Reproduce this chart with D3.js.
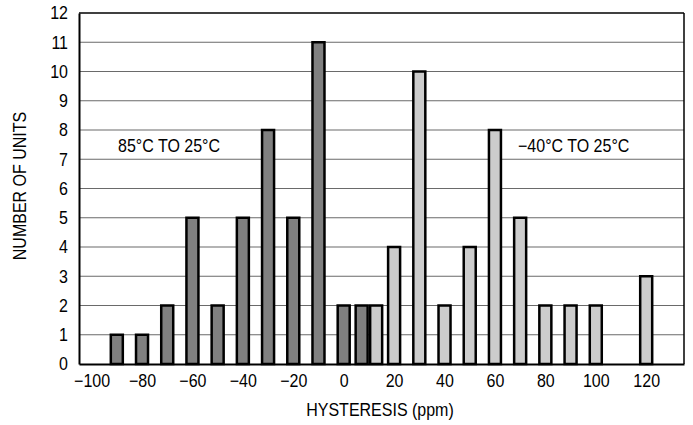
<!DOCTYPE html>
<html>
<head>
<meta charset="utf-8">
<script src="https://cdn.jsdelivr.net/npm/d3@7"></script>
<style>
  html, body { margin: 0; padding: 0; background: #fff; }
  text { font-family: "Liberation Sans", Arial, Helvetica, sans-serif; fill: #000; }
</style>
</head>
<body>
<svg id="chart" width="693" height="425"></svg>
<script>
// ---- data ----
const hotBins   = [-90, -80, -70, -60, -50, -40, -30, -20, -10, 0, 10];
const hotCounts = [  1,   1,   2,   5,   2,   5,   8,   5,  11, 2,  2];
const coldBins   = [10, 20, 30, 40, 50, 60, 70, 80, 90, 100, 120];
const coldCounts = [ 2,  4, 10,  2,  4,  8,  5,  2,  2,   2,   3];
const xTicks = [-100, -80, -60, -40, -20, 0, 20, 40, 60, 80, 100, 120];
const yTicks = [0, 1, 2, 3, 4, 5, 6, 7, 8, 9, 10, 11, 12];
const hotLabel = "85°C TO 25°C";
const coldLabel = "\u221240°C TO 25°C";
const xTitle = "HYSTERESIS (ppm)";
const yTitle = "NUMBER OF UNITS";

// ---- layout ----
const FS = 18, SX = 0.89; // condensed look
const svg = d3.select("#chart");
const L = 79, R = 684, T = 13, B = 364;
const x = d3.scaleLinear().domain([-105, 135]).range([L, R]);
const y = d3.scaleLinear().domain([0, 12]).range([B, T]);
const barW = 12;

// gridlines
svg.append("g").selectAll("line").data(yTicks.filter(d => d > 0 && d < 12)).join("line")
  .attr("x1", L).attr("x2", R)
  .attr("y1", d => y(d)).attr("y2", d => y(d))
  .attr("stroke", "#6a6a6a").attr("stroke-width", 1.2);

// frame top/right
svg.append("line").attr("x1", L).attr("x2", R).attr("y1", y(12)).attr("y2", y(12))
  .attr("stroke", "#000").attr("stroke-width", 1.3);
svg.append("line").attr("x1", R).attr("x2", R).attr("y1", T).attr("y2", B)
  .attr("stroke", "#000").attr("stroke-width", 1.5);

// bars — overlapping bin (10) drawn side by side
function offset(bin, series) {
  const shared = hotBins.includes(bin) && coldBins.includes(bin);
  if (!shared) return 0;
  return series === "hot" ? -(barW + 2.5) / 2 : (barW + 2.5) / 2;
}
const hot = hotBins.map((b, i) => ({ b, v: hotCounts[i] }));
const cold = coldBins.map((b, i) => ({ b, v: coldCounts[i] }));

svg.append("g").selectAll("rect").data(hot).join("rect")
  .attr("x", d => x(d.b) + offset(d.b, "hot") - barW / 2)
  .attr("y", d => y(d.v))
  .attr("width", barW)
  .attr("height", d => y(0) - y(d.v))
  .attr("fill", "#808080").attr("stroke", "#000").attr("stroke-width", 2.5);

svg.append("g").selectAll("rect").data(cold).join("rect")
  .attr("x", d => x(d.b) + offset(d.b, "cold") - barW / 2)
  .attr("y", d => y(d.v))
  .attr("width", barW)
  .attr("height", d => y(0) - y(d.v))
  .attr("fill", "#cccccc").attr("stroke", "#000").attr("stroke-width", 2.5);

// axes
const yAxis = svg.append("g").attr("transform", `translate(${L},0)`)
  .call(d3.axisLeft(y).tickValues(yTicks).tickSize(0).tickPadding(12));
yAxis.select(".domain").attr("stroke", "#000").attr("stroke-width", 2);
yAxis.selectAll("text").attr("font-size", FS).style("font-family", null)
  .attr("x", -11 / SX).attr("transform", `scale(${SX},1)`);

const xAxis = svg.append("g").attr("transform", `translate(0,${B})`)
  .call(d3.axisBottom(x).tickValues(xTicks).tickSize(0).tickPadding(10)
    .tickFormat(d => (d < 0 ? "\u2212" + Math.abs(d) : String(d))));
xAxis.select(".domain").attr("stroke", "#000").attr("stroke-width", 2);
xAxis.selectAll("text").attr("font-size", FS).style("font-family", null)
  .attr("transform", `scale(${SX},1)`);

// titles & annotations (condensed via horizontal scale)
function label(tx, ty, rot, anchor, str) {
  svg.append("g").attr("transform", `translate(${tx},${ty}) rotate(${rot}) scale(${SX},1)`)
    .append("text").attr("text-anchor", anchor).attr("font-size", FS).text(str);
}
label(380, 416, 0, "middle", xTitle);
label(26, 186, -90, "middle", yTitle);
label(118, 152, 0, "start", hotLabel);
label(518, 152, 0, "start", coldLabel);
</script>
</body>
</html>
